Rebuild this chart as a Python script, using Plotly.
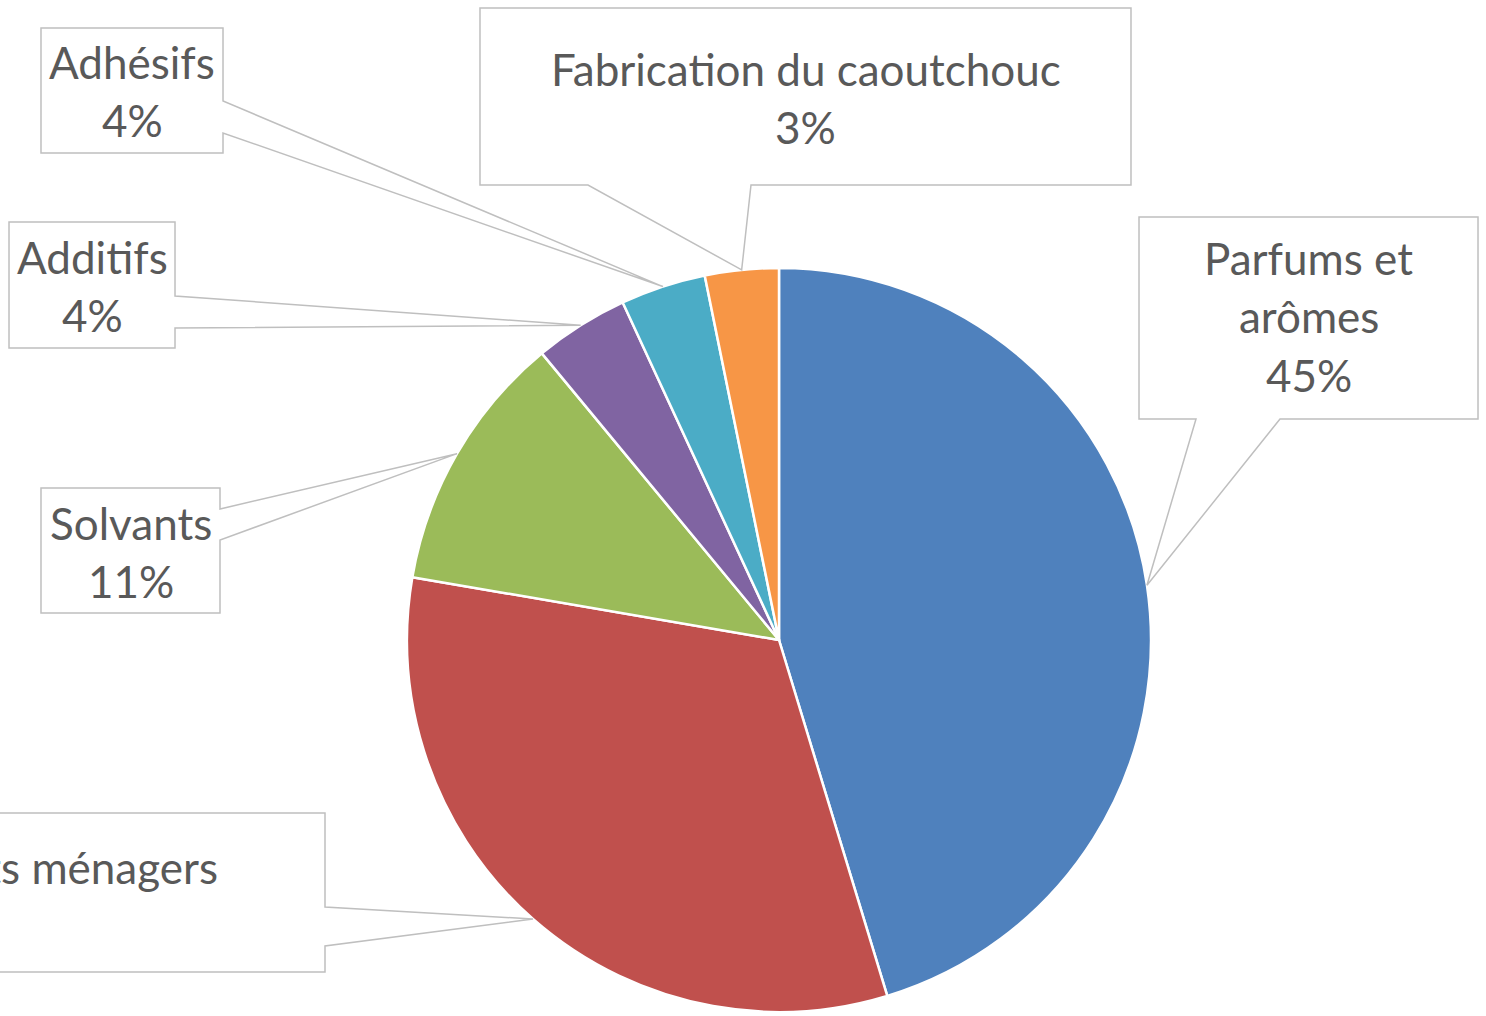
import math
import plotly.graph_objects as go

W, H = 1486, 1016

# ---- data ----
categories = ["Parfums et arômes", "Détergents et produits ménagers", "Solvants",
              "Additifs", "Adhésifs", "Fabrication du caoutchouc"]
values = [45.3, 32.4, 11.3, 4.1, 3.7, 3.2]
colors = ["#4F81BD", "#C0504D", "#9BBB59", "#8064A2", "#4BACC6", "#F79646"]
label_lines = [["Parfums et", "arômes"], ["Détergents et produits ménagers"], ["Solvants"],
               ["Additifs"], ["Adhésifs"], ["Fabrication du caoutchouc"]]

# ---- layout constants (pixels) ----
CX, CY, R = 779, 640, 372
FONT = "Lato"
FS = 44
GAP = 58.5
TXT = "#595959"
BORDER = "#BFBFBF"

# callout boxes: (x0, y0, x1, y1), side, base points, first baseline, text x, anchor
callouts = [
    dict(box=(1139, 217, 1478, 419), side="bottom", base=(1196, 1280), bl=275, tx=1308.5, anchor="center"),
    dict(box=(-420, 813, 325, 972), side="right", base=(907, 946), bl=882, tx=220, anchor="right"),
    dict(box=(41, 488, 220, 613), side="right", base=(509, 540), bl=540, tx=130.5, anchor="center"),
    dict(box=(9, 222, 175, 348), side="right", base=(296, 328), bl=274, tx=92, anchor="center"),
    dict(box=(41, 28, 223, 153), side="right", base=(101, 133), bl=79, tx=132, anchor="center"),
    dict(box=(480, 8, 1131, 185), side="bottom", base=(588, 751), bl=86, tx=805.5, anchor="center"),
]


def px(x):
    return x / W


def py(y):
    return 1 - y / H


total = sum(values)
pcts = [f"{round(v / total * 100)}%" for v in values]

# tips at slice mid-angles on the circle
tips = []
cum = 0
for v in values:
    theta = 2 * math.pi * (cum + v / 2) / total
    tips.append((CX + R * math.sin(theta), CY - R * math.cos(theta)))
    cum += v

fig = go.Figure()
fig.add_trace(go.Pie(
    labels=categories, values=values, sort=False, direction="clockwise", rotation=0,
    marker=dict(colors=colors, line=dict(color="white", width=2.5)),
    textinfo="none", hoverinfo="label+percent", showlegend=False,
    domain=dict(x=[px(CX - R), px(CX + R)], y=[py(CY + R), py(CY - R)]),
))

shapes = []
annotations = []
for i, c in enumerate(callouts):
    x0, y0, x1, y1 = c["box"]
    tx, ty = tips[i]
    b1, b2 = c["base"]
    if c["side"] == "right":
        pts = [(x0, y0), (x1, y0), (x1, b1), (tx, ty), (x1, b2), (x1, y1), (x0, y1)]
    else:
        pts = [(x0, y0), (x1, y0), (x1, y1), (b2, y1), (tx, ty), (b1, y1), (x0, y1)]
    path = "M " + " L ".join(f"{px(a):.5f},{py(b):.5f}" for a, b in pts) + " Z"
    shapes.append(dict(type="path", xref="paper", yref="paper", path=path,
                       fillcolor="white", line=dict(color=BORDER, width=1.5), layer="above"))

    lines = label_lines[i] + [pcts[i]]
    if c["anchor"] == "right":
        txt = "<br>".join(lines)
        annotations.append(dict(
            x=px(c["tx"]), y=py(c["bl"] - 0.987 * FS), xref="paper", yref="paper",
            xanchor="right", yanchor="top", align="center", showarrow=False, text=txt,
            font=dict(family=FONT, size=FS, color=TXT)))
    else:
        for k, line in enumerate(lines):
            bl = c["bl"] + k * GAP
            annotations.append(dict(
                x=px(c["tx"]), y=py(bl - 0.387 * FS), xref="paper", yref="paper",
                xanchor="center", yanchor="middle", showarrow=False, text=line,
                font=dict(family=FONT, size=FS, color=TXT)))

fig.update_layout(
    width=W, height=H, margin=dict(l=0, r=0, t=0, b=0),
    paper_bgcolor="white", plot_bgcolor="white",
    shapes=shapes, annotations=annotations,
)

fig.write_html("out.html", config={"displayModeBar": False},
               post_script="document.body.style.margin='0px';")
